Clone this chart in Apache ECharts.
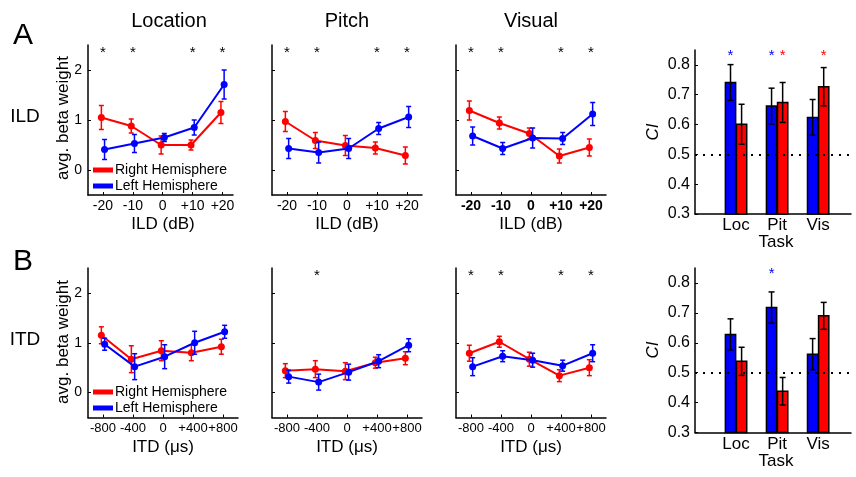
<!DOCTYPE html>
<html>
<head>
<meta charset="utf-8">
<script src="https://cdn.jsdelivr.net/npm/echarts/dist/echarts.min.js"></script>
<style>html,body{margin:0;padding:0;background:#fff;}#c{width:856px;height:477px;}</style>
</head>
<body>
<div id="c"></div>
<script>
// ---------------- data ----------------
const ildLevels = [-20, -10, 0, 10, 20];
const itdLevels = [-800, -400, 0, 400, 800];
const yTicksBeta = [0, 1, 2];

// ILD row (A): avg. beta weight, right (red) / left (blue) hemisphere, with SEM
const locILD_R = [1.05, 0.88, 0.50, 0.50, 1.15];
const locILD_Re = [0.24, 0.14, 0.18, 0.10, 0.22];
const locILD_L = [0.41, 0.53, 0.65, 0.85, 1.71];
const locILD_Le = [0.20, 0.18, 0.08, 0.15, 0.29];
const pitILD_R = [0.97, 0.59, 0.49, 0.44, 0.29];
const pitILD_Re = [0.20, 0.16, 0.20, 0.12, 0.17];
const pitILD_L = [0.43, 0.35, 0.43, 0.83, 1.06];
const pitILD_Le = [0.20, 0.21, 0.20, 0.12, 0.21];
const visILD_R = [1.19, 0.94, 0.73, 0.28, 0.45];
const visILD_Re = [0.19, 0.12, 0.11, 0.14, 0.17];
const visILD_L = [0.68, 0.43, 0.64, 0.63, 1.12];
const visILD_Le = [0.18, 0.12, 0.20, 0.12, 0.23];

// ITD row (B)
const locITD_R = [1.15, 0.67, 0.84, 0.80, 0.92];
const locITD_Re = [0.17, 0.27, 0.20, 0.16, 0.15];
const locITD_L = [0.97, 0.52, 0.72, 1.00, 1.22];
const locITD_Le = [0.12, 0.26, 0.24, 0.23, 0.13];
const pitITD_R = [0.44, 0.47, 0.43, 0.60, 0.69];
const pitITD_Re = [0.14, 0.17, 0.17, 0.11, 0.13];
const pitITD_L = [0.32, 0.21, 0.41, 0.63, 0.95];
const pitITD_Le = [0.13, 0.16, 0.16, 0.13, 0.13];
const visITD_R = [0.79, 1.02, 0.67, 0.34, 0.50];
const visITD_Re = [0.16, 0.11, 0.14, 0.12, 0.16];
const visITD_L = [0.52, 0.73, 0.65, 0.54, 0.79];
const visITD_Le = [0.18, 0.11, 0.14, 0.11, 0.17];

// significance stars (levels)
const starsLocILD = [-20, -10, 10, 20];
const starsPitILD = [-20, -10, 10, 20];
const starsVisILD = [-20, -10, 10, 20];
const starsLocITD = [];
const starsPitITD = [-400];
const starsVisITD = [-800, -400, 400, 800];

// CI bar charts
const tasks = ['Loc', 'Pit', 'Vis'];
const ciTicks = [0.3, 0.4, 0.5, 0.6, 0.7, 0.8];
const ciChance = 0.5;
const ciILD_L = [0.741, 0.662, 0.624];
const ciILD_Le = [0.060, 0.060, 0.060];
const ciILD_R = [0.601, 0.674, 0.727];
const ciILD_Re = [0.067, 0.067, 0.064];
const ciITD_L = [0.628, 0.718, 0.562];
const ciITD_Le = [0.052, 0.052, 0.052];
const ciITD_R = [0.538, 0.438, 0.690];
const ciITD_Re = [0.047, 0.046, 0.045];
const ciStarsILD_L = ['Loc', 'Pit'];
const ciStarsILD_R = ['Pit', 'Vis'];
const ciStarsITD_L = ['Pit'];
const ciStarsITD_R = [];

// ---------------- style / layout ----------------
const FONT = '"Liberation Sans", Arial, Helvetica, sans-serif';
const RED = '#ff0000', BLUE = '#0000ff', BLACK = '#000';
const JIT = 0.011;      // horizontal jitter as fraction of axis span
const STAR_Y = 2.34;    // star level on beta axis
const CI_STAR_Y = 0.83;
const CI_MIN = 0.3, CI_MAX = 0.85;
const BAR_W = 0.25, BAR_OFF = 0.135;

const rows = [{top: 45, height: 150, xfs: 14}, {top: 268, height: 149.5, xfs: 13}];
const cols = [{left: 88}, {left: 272}, {left: 456}];

const panels = [
  {row: 0, col: 0, width: 145, min: -25, max: 23.5, lv: ildLevels, R: locILD_R, Re: locILD_Re, L: locILD_L, Le: locILD_Le, stars: starsLocILD, ylab: true, bold: false},
  {row: 0, col: 1, width: 150, min: -25, max: 25, lv: ildLevels, R: pitILD_R, Re: pitILD_Re, L: pitILD_L, Le: pitILD_Le, stars: starsPitILD, ylab: false, bold: false},
  {row: 0, col: 2, width: 150, min: -25, max: 25, lv: ildLevels, R: visILD_R, Re: visILD_Re, L: visILD_L, Le: visILD_Le, stars: starsVisILD, ylab: false, bold: true},
  {row: 1, col: 0, width: 150, min: -1000, max: 1000, lv: itdLevels, R: locITD_R, Re: locITD_Re, L: locITD_L, Le: locITD_Le, stars: starsLocITD, ylab: true, bold: false},
  {row: 1, col: 1, width: 150, min: -1000, max: 1000, lv: itdLevels, R: pitITD_R, Re: pitITD_Re, L: pitITD_L, Le: pitITD_Le, stars: starsPitITD, ylab: false, bold: false},
  {row: 1, col: 2, width: 150, min: -1000, max: 1000, lv: itdLevels, R: visITD_R, Re: visITD_Re, L: visITD_L, Le: visITD_Le, stars: starsVisITD, ylab: false, bold: false}
];

const barPanels = [
  {top: 50, height: 164, L: ciILD_L, Le: ciILD_Le, R: ciILD_R, Re: ciILD_Re, sL: ciStarsILD_L, sR: ciStarsILD_R},
  {top: 268, height: 164.5, L: ciITD_L, Le: ciITD_Le, R: ciITD_R, Re: ciITD_Re, sL: ciStarsITD_L, sR: ciStarsITD_R}
];

const grid = [], xAxis = [], yAxis = [], series = [];
const axisLine = {show: true, onZero: false, lineStyle: {color: BLACK, width: 1.5}};

function errItem(color, cap) {
  return function (params, api) {
    const x = api.value(0), y = api.value(1), e = api.value(2);
    const t = api.coord([x, y + e]), b = api.coord([x, y - e]);
    const st = {stroke: color, lineWidth: 1.5};
    return {type: 'group', children: [
      {type: 'line', shape: {x1: t[0], y1: t[1], x2: b[0], y2: b[1]}, style: st},
      {type: 'line', shape: {x1: t[0] - cap, y1: t[1], x2: t[0] + cap, y2: t[1]}, style: st},
      {type: 'line', shape: {x1: b[0] - cap, y1: b[1], x2: b[0] + cap, y2: b[1]}, style: st}
    ]};
  };
}
function starItem(color, size) {
  return function (params, api) {
    const p = api.coord([api.value(0), api.value(1)]);
    return {type: 'text', x: p[0], y: p[1], style: {text: '*', fill: color, font: size + 'px ' + FONT, align: 'center', verticalAlign: 'middle'}};
  };
}
function barItem(color, side) {
  return function (params, api) {
    const xc = api.value(0) + side * BAR_OFF, v = api.value(1), e = api.value(2);
    const w = api.size([BAR_W, 0])[0];
    const top = api.coord([xc, v]), base = api.coord([xc, CI_MIN]);
    const et = api.coord([xc, v + e]), eb = api.coord([xc, v - e]);
    const st = {stroke: BLACK, lineWidth: 1.5};
    return {type: 'group', children: [
      {type: 'rect', shape: {x: top[0] - w / 2, y: top[1], width: w, height: base[1] - top[1]}, style: {fill: color, stroke: BLACK, lineWidth: 1.5}},
      {type: 'line', shape: {x1: et[0], y1: et[1], x2: eb[0], y2: eb[1]}, style: st},
      {type: 'line', shape: {x1: et[0] - 3, y1: et[1], x2: et[0] + 3, y2: et[1]}, style: st},
      {type: 'line', shape: {x1: eb[0] - 3, y1: eb[1], x2: eb[0] + 3, y2: eb[1]}, style: st}
    ]};
  };
}

panels.forEach(function (p, gi) {
  grid.push({left: cols[p.col].left, top: rows[p.row].top, width: p.width, height: rows[p.row].height});
  xAxis.push({
    gridIndex: gi, type: 'value', min: p.min, max: p.max,
    axisLine: axisLine,
    axisTick: {show: true, inside: true, length: 3, customValues: p.lv, lineStyle: {color: BLACK, width: 1}},
    axisLabel: {customValues: p.lv, margin: 4, hideOverlap: false, color: BLACK, fontSize: rows[p.row].xfs, fontFamily: FONT, fontWeight: p.bold ? 'bold' : 'normal',
      formatter: function (v) { return v > 0 ? '+' + v : String(v); }},
    splitLine: {show: false}
  });
  yAxis.push({
    gridIndex: gi, type: 'value', min: -0.5, max: 2.5,
    axisLine: axisLine,
    axisTick: {show: true, inside: true, length: 3, customValues: yTicksBeta, lineStyle: {color: BLACK, width: 1}},
    axisLabel: {show: p.ylab, customValues: yTicksBeta, margin: 6, color: BLACK, fontSize: 14, fontFamily: FONT},
    splitLine: {show: false}
  });
  const off = JIT * (p.max - p.min);
  const rData = p.lv.map(function (x, i) { return [x - off, p.R[i]]; });
  const lData = p.lv.map(function (x, i) { return [x + off, p.L[i]]; });
  const rErr = p.lv.map(function (x, i) { return [x - off, p.R[i], p.Re[i]]; });
  const lErr = p.lv.map(function (x, i) { return [x + off, p.L[i], p.Le[i]]; });
  series.push({type: 'line', name: 'Right Hemisphere', xAxisIndex: gi, yAxisIndex: gi, data: rData, symbol: 'circle', symbolSize: 7,
    lineStyle: {color: RED, width: 2}, itemStyle: {color: RED}, animation: false, z: 3});
  series.push({type: 'custom', name: 'errR' + gi, xAxisIndex: gi, yAxisIndex: gi, data: rErr, encode: {x: 0, y: 1}, renderItem: errItem(RED, 2.5), animation: false, z: 3});
  series.push({type: 'line', name: 'Left Hemisphere', xAxisIndex: gi, yAxisIndex: gi, data: lData, symbol: 'circle', symbolSize: 7,
    lineStyle: {color: BLUE, width: 2}, itemStyle: {color: BLUE}, animation: false, z: 4});
  series.push({type: 'custom', name: 'errL' + gi, xAxisIndex: gi, yAxisIndex: gi, data: lErr, encode: {x: 0, y: 1}, renderItem: errItem(BLUE, 2.5), animation: false, z: 4});
  if (p.stars.length) {
    series.push({type: 'custom', name: 'stars' + gi, xAxisIndex: gi, yAxisIndex: gi,
      data: p.stars.map(function (x) { return [x, STAR_Y]; }), encode: {x: 0, y: 1}, renderItem: starItem(BLACK, 15), animation: false});
  }
});

barPanels.forEach(function (b) {
  const gi = grid.length;
  grid.push({left: 695, top: b.top, width: 156, height: b.height});
  xAxis.push({
    gridIndex: gi, type: 'value', min: 0, max: 3.8,
    axisLine: axisLine, axisTick: {show: false},
    axisLabel: {customValues: [1, 2, 3], margin: 3, color: BLACK, fontSize: 17, fontFamily: FONT,
      formatter: function (v) { return tasks[Math.round(v) - 1] || ''; }},
    splitLine: {show: false}
  });
  yAxis.push({
    gridIndex: gi, type: 'value', min: CI_MIN, max: CI_MAX,
    axisLine: axisLine,
    axisTick: {show: true, inside: true, length: 3, customValues: ciTicks, lineStyle: {color: BLACK, width: 1}},
    axisLabel: {customValues: ciTicks, margin: 5, color: BLACK, fontSize: 16, fontFamily: FONT,
      formatter: function (v) { return v.toFixed(1); }},
    splitLine: {show: false}
  });
  series.push({type: 'line', name: 'chance' + gi, xAxisIndex: gi, yAxisIndex: gi, data: [], z: 1, animation: false,
    markLine: {silent: true, symbol: ['none', 'none'], label: {show: false}, animation: false,
      lineStyle: {color: BLACK, width: 2, type: [2, 6]}, data: [{yAxis: ciChance}]}});
  series.push({type: 'custom', name: 'barL' + gi, xAxisIndex: gi, yAxisIndex: gi, z: 2, animation: false,
    data: b.L.map(function (v, i) { return [i + 1, v, b.Le[i]]; }), encode: {x: 0, y: 1}, renderItem: barItem(BLUE, -1)});
  series.push({type: 'custom', name: 'barR' + gi, xAxisIndex: gi, yAxisIndex: gi, z: 2, animation: false,
    data: b.R.map(function (v, i) { return [i + 1, v, b.Re[i]]; }), encode: {x: 0, y: 1}, renderItem: barItem(RED, 1)});
  if (b.sL.length) series.push({type: 'custom', name: 'sL' + gi, xAxisIndex: gi, yAxisIndex: gi, animation: false,
    data: b.sL.map(function (t) { return [tasks.indexOf(t) + 1 - BAR_OFF, CI_STAR_Y]; }), encode: {x: 0, y: 1}, renderItem: starItem(BLUE, 15)});
  if (b.sR.length) series.push({type: 'custom', name: 'sR' + gi, xAxisIndex: gi, yAxisIndex: gi, animation: false,
    data: b.sR.map(function (t) { return [tasks.indexOf(t) + 1 + BAR_OFF, CI_STAR_Y]; }), encode: {x: 0, y: 1}, renderItem: starItem(RED, 15)});
});

function txt(text, x, y, size, opts) {
  opts = opts || {};
  return {type: 'text', x: x, y: y, rotation: opts.rot || 0, silent: true,
    style: {text: text, fill: BLACK, font: (opts.italic ? 'italic ' : '') + size + 'px ' + FONT, align: 'center', verticalAlign: 'middle'}};
}
const R90 = Math.PI / 2;
const graphic = [
  txt('A', 23, 36, 30), txt('B', 23, 262, 30),
  txt('Location', 169, 21, 20), txt('Pitch', 347, 21, 20), txt('Visual', 531, 21, 20),
  txt('ILD', 25, 117, 19), txt('ITD', 25, 340, 19),
  txt('avg. beta weight', 63, 118, 17, {rot: R90}), txt('avg. beta weight', 63, 342, 17, {rot: R90}),
  txt('ILD (dB)', 163, 224, 17), txt('ILD (dB)', 347, 224, 17), txt('ILD (dB)', 531, 224, 17),
  txt('ITD (\u03bcs)', 163, 447, 17), txt('ITD (\u03bcs)', 347, 447, 17), txt('ITD (\u03bcs)', 531, 447, 17),
  txt('CI', 653, 132, 17, {rot: R90, italic: true}), txt('CI', 653, 350, 17, {rot: R90, italic: true}),
  txt('Task', 776, 242, 17), txt('Task', 776, 461, 17)
];

const legendBase = {orient: 'vertical', left: 93, padding: 0, itemGap: 2, itemWidth: 20, itemHeight: 5, icon: 'rect',
  selectedMode: false, data: ['Right Hemisphere', 'Left Hemisphere'],
  textStyle: {color: BLACK, fontSize: 14, fontFamily: FONT, lineHeight: 14, padding: [0, 0, 0, -3]}};
const legend = [
  Object.assign({}, legendBase, {top: 163}),
  Object.assign({}, legendBase, {top: 385})
];

const chart = echarts.init(document.getElementById('c'), null, {renderer: 'canvas'});
chart.setOption({
  animation: false,
  backgroundColor: '#fff',
  grid: grid, xAxis: xAxis, yAxis: yAxis, series: series, legend: legend, graphic: graphic
});
</script>
</body>
</html>
